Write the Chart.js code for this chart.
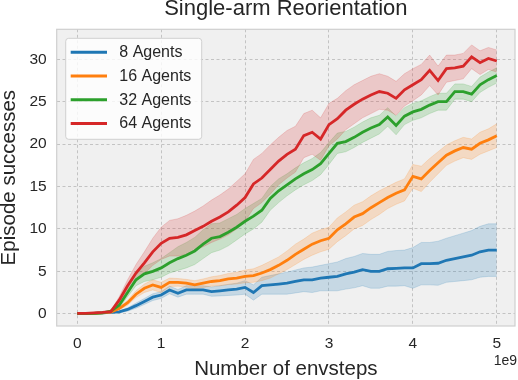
<!DOCTYPE html>
<html><head><meta charset="utf-8">
<script src="https://cdn.jsdelivr.net/npm/chart.js@4"></script>
<style>html,body{margin:0;padding:0;background:#fff}canvas{display:block}</style>
</head><body>
<canvas id="c" width="518" height="380"></canvas>
<script>
// x in units of 1e9 env steps
const steps = [0,0.1,0.2,0.3,0.4,0.5,0.6,0.7,0.8,0.9,
  1.0,1.1,1.2,1.3,1.4,1.5,1.6,1.7,1.8,1.9,
  2.0,2.1,2.2,2.3,2.4,2.5,2.6,2.7,2.8,2.9,
  3.0,3.1,3.2,3.3,3.4,3.5,3.6,3.7,3.8,3.9,
  4.0,4.1,4.2,4.3,4.4,4.5,4.6,4.7,4.8,4.9,5.0];

const seriesNames = ['8 Agents','16 Agents','32 Agents','64 Agents'];

const mean8 = [0,0.02,0.05,0.1,0.15,0.22,0.5,0.95,1.45,1.95,
  2.2,2.8,2.4,2.8,2.8,2.8,2.6,2.7,2.8,2.9,
  3.1,2.5,3.3,3.4,3.5,3.6,3.8,4.0,4.0,4.2,
  4.3,4.4,4.7,4.9,5.2,5.0,5.0,5.3,5.35,5.4,
  5.4,5.9,5.9,5.95,6.3,6.5,6.7,6.9,7.3,7.5,7.5];
const spread8 = [0.05,0.05,0.05,0.05,0.05,0.1,0.2,0.3,0.35,0.4,
  0.4,0.45,0.45,0.5,0.5,0.5,0.55,0.6,0.65,0.7,
  0.8,0.9,1.0,1.1,1.2,1.3,1.35,1.4,1.5,1.5,
  1.6,1.7,1.8,1.85,1.9,2.0,2.0,2.05,2.1,2.1,
  2.4,2.5,2.5,2.6,2.6,2.7,2.8,2.9,3.0,3.1,3.1];

const mean16 = [0,0.02,0.05,0.1,0.2,0.6,1.3,2.3,3.0,3.4,
  3.1,3.7,3.7,3.6,3.4,3.6,3.8,3.9,4.1,4.2,
  4.4,4.5,4.8,5.2,5.7,6.3,7.0,7.6,8.2,8.6,
  8.9,9.9,10.6,11.4,11.8,12.5,13.1,13.7,14.2,14.6,
  16.2,15.9,16.9,17.8,18.7,19.2,19.6,19.4,20.1,20.5,21.0];
const spread16 = [0.05,0.05,0.05,0.05,0.05,0.15,0.3,0.4,0.5,0.6,
  0.6,0.5,0.45,0.45,0.5,0.5,0.55,0.6,0.65,0.7,
  0.75,0.8,0.9,1.0,1.0,1.1,1.2,1.2,1.3,1.3,
  1.3,1.4,1.4,1.4,1.4,1.4,1.4,1.3,1.3,1.3,
  1.4,1.5,1.4,1.3,1.2,1.2,1.2,1.2,1.3,1.3,1.4];

const mean32 = [0,0.02,0.05,0.1,0.3,1.0,2.5,4.0,4.7,5.0,
  5.4,6.0,6.5,6.9,7.4,8.2,8.9,9.1,9.6,10.2,
  10.9,11.5,12.2,13.6,14.5,15.2,15.9,16.5,17.0,17.7,
  18.9,20.1,20.3,20.8,21.4,21.9,22.3,23.2,22.2,23.3,
  23.8,24.1,24.6,25.0,25.0,26.2,26.2,25.9,27.0,27.6,28.1];
const spread32 = [0.05,0.05,0.05,0.05,0.05,0.3,0.5,0.7,0.9,1.0,
  1.1,1.2,1.4,1.5,1.6,1.7,1.7,1.6,1.6,1.5,
  1.5,1.5,1.4,1.4,1.4,1.3,1.3,1.3,1.3,1.3,
  1.3,1.2,1.2,1.2,1.2,1.2,1.1,1.1,1.1,1.0,
  1.0,1.0,1.0,1.0,1.0,0.9,0.9,0.9,0.9,0.9,0.9];

const mean64 = [0.05,0.05,0.1,0.15,0.25,1.6,3.3,4.8,6.0,7.3,
  8.3,8.9,9.0,9.3,9.8,10.3,10.9,11.4,12.0,12.8,
  13.7,15.3,16.0,17.0,18.0,18.8,19.4,21.0,21.4,20.6,
  22.3,23.0,24.0,24.7,25.3,25.8,26.2,26.0,25.4,26.4,
  27.0,27.6,28.7,27.5,28.9,29.0,29.2,30.3,29.6,30.1,29.8];
const spread64 = [0.05,0.05,0.05,0.05,0.05,0.4,0.7,1.0,1.3,1.6,
  1.9,2.1,2.2,2.3,2.3,2.4,2.5,2.6,2.7,2.8,
  2.8,2.9,2.9,2.9,2.8,2.8,2.7,2.6,2.6,2.5,
  2.5,2.4,2.3,2.3,2.2,2.2,2.1,2.0,2.0,1.9,
  1.9,1.8,1.8,1.7,1.6,1.5,1.5,1.4,1.4,1.3,1.3];

const xTicks = [0,1,2,3,4,5];
const yTicks = [0,5,10,15,20,25,30];

const means = [mean8, mean16, mean32, mean64];
const spreads = [spread8, spread16, spread32, spread64];
const colors = [[31,119,180],[255,127,14],[44,160,44],[214,39,40]];
const FONT = "'Liberation Sans', Arial, Helvetica, sans-serif";
const TXT = '#262626';
const rgba = (c,a) => `rgba(${c[0]},${c[1]},${c[2]},${a})`;

const datasets = [];
means.forEach((m, i) => {
  const s = spreads[i];
  const bandOrder = 7 - i;
  datasets.push({
    label: seriesNames[i] + ' upper',
    data: steps.map((x,k) => ({x, y: m[k] + s[k]})),
    borderColor: rgba(colors[i], 0.22), borderWidth: 0.8,
    backgroundColor: rgba(colors[i], 0.2), fill: '+1',
    pointRadius: 0, order: bandOrder
  });
  datasets.push({
    label: seriesNames[i] + ' lower',
    data: steps.map((x,k) => ({x, y: m[k] - s[k]})),
    borderColor: rgba(colors[i], 0.22), borderWidth: 0.8,
    fill: false, pointRadius: 0, order: bandOrder
  });
});
means.forEach((m, i) => {
  datasets.push({
    label: seriesNames[i],
    data: steps.map((x,k) => ({x, y: m[k]})),
    borderColor: rgba(colors[i], 1), borderWidth: 2.8,
    fill: false, pointRadius: 0, order: 3 - i
  });
});

const decor = {
  id: 'decor',
  beforeDraw(chart) {
    const {ctx, chartArea: a} = chart;
    ctx.save();
    ctx.fillStyle = '#f0f0f0';
    ctx.fillRect(a.left, a.top, a.right - a.left, a.bottom - a.top);
    ctx.restore();
  },
  afterDraw(chart) {
    const {ctx, chartArea: a} = chart;
    ctx.save();
    ctx.strokeStyle = '#cfcfcf';
    ctx.lineWidth = 1.2;
    ctx.strokeRect(a.left, a.top, a.right - a.left, a.bottom - a.top);

    // legend
    const lx = 65.7, ly = 38.3, lw = 136, lh = 101;
    ctx.beginPath();
    ctx.roundRect(lx, ly, lw, lh, 3);
    ctx.fillStyle = 'rgba(255,255,255,0.8)';
    ctx.fill();
    ctx.strokeStyle = '#d0d0d0';
    ctx.lineWidth = 1;
    ctx.stroke();
    ctx.font = '16px ' + FONT;
    ctx.textBaseline = 'middle';
    ctx.textAlign = 'left';
    seriesNames.forEach((name, i) => {
      const y = ly + 14 + i * 23.7;
      ctx.strokeStyle = rgba(colors[i], 1);
      ctx.lineWidth = 3;
      ctx.beginPath();
      ctx.moveTo(70.7, y); ctx.lineTo(107, y);
      ctx.stroke();
      ctx.fillStyle = TXT;
      ctx.fillText(name, 119.3, y + 0.5);
    });

    // offset text
    ctx.font = '14px ' + FONT;
    ctx.textAlign = 'right';
    ctx.textBaseline = 'alphabetic';
    ctx.fillStyle = TXT;
    ctx.fillText('1e9', 517, 365);
    ctx.restore();
  }
};

new Chart(document.getElementById('c'), {
  type: 'line',
  data: { datasets },
  plugins: [decor],
  options: {
    responsive: false,
    animation: false,
    devicePixelRatio: 1,
    layout: { padding: { left: 0, right: 3, top: 0, bottom: 0 } },
    plugins: {
      legend: { display: false },
      tooltip: { enabled: false },
      title: {
        display: true, text: 'Single-arm Reorientation', color: TXT,
        fullSize: false,
        font: { family: FONT, size: 22, weight: 'normal', lineHeight: 0.8 },
        padding: { top: 0, bottom: 11.7 }
      }
    },
    scales: {
      x: {
        type: 'linear', min: -0.245, max: 5.217,
        afterBuildTicks: s => { s.ticks = xTicks.map(v => ({value: v})); },
        afterFit: s => { s.height = 54; },
        ticks: { color: TXT, font: { family: FONT, size: 15.5 }, padding: 8,
                 callback: v => String(v), maxRotation: 0 },
        grid: { color: '#bdbdbd', lineWidth: 0.9, drawTicks: false },
        border: { display: false, dash: [3, 2.5] },
        title: { display: true, text: 'Number of envsteps', color: TXT,
                 font: { family: FONT, size: 20.5, lineHeight: 1.0 }, padding: 0 }
      },
      y: {
        type: 'linear', min: -1.45, max: 33.54,
        afterBuildTicks: s => { s.ticks = yTicks.map(v => ({value: v})); },
        afterFit: s => { s.width = 56.7; },
        ticks: { color: TXT, font: { family: FONT, size: 15.5 }, padding: 10,
                 callback: v => String(v) },
        grid: { color: '#bdbdbd', lineWidth: 0.9, drawTicks: false },
        border: { display: false, dash: [3, 2.5] },
        title: { display: true, text: 'Episode successes', color: TXT,
                 font: { family: FONT, size: 20.5, lineHeight: 0.87 }, padding: 0 }
      }
    }
  }
});
</script>
</body></html>
